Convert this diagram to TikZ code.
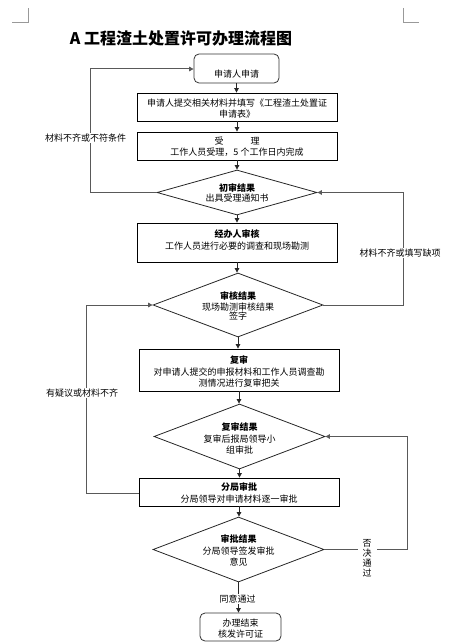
\documentclass[tikz,border=0pt]{standalone}
\usepackage{fontspec}
\newfontfamily\cjk{Noto Sans CJK SC}
\usetikzlibrary{shapes.geometric,arrows.meta}
\begin{document}
\begin{tikzpicture}[x=1pt,y=-1pt,
  box/.style={draw=black,line width=0.8pt,minimum width=200pt,inner sep=0pt},
  rbox/.style={draw=black!80,line width=0.8pt,rounded corners=5pt,inner sep=0pt},
  dia/.style={draw=black!85,line width=0.8pt,diamond,inner sep=0pt},
  txt/.style={font=\cjk\fontsize{9}{11}\selectfont,align=center,inner sep=0pt},
  htxt/.style={font=\cjk\bfseries\fontsize{9}{11}\selectfont,align=center,inner sep=0pt},
  lbl/.style={font=\cjk\fontsize{9}{11}\selectfont,fill=white,inner sep=1pt,align=center},
  flow/.style={draw=black!85,line width=0.8pt,-{Triangle[length=4.5pt,width=4.5pt]}},
  loopline/.style={draw=black!65,line width=1pt,-{Triangle[length=4.5pt,width=4.5pt]}},
  cornermark/.style={draw=black!40,line width=0.7pt}
]
\useasboundingbox (0,0) rectangle (458,644);
% page corner marks
\draw[cornermark] (12,22) -- (28,22) -- (28,8);
\draw[cornermark] (403,8) -- (403,22) -- (419,22);
% title
\node[font=\cjk\bfseries\fontsize{16}{18}\selectfont,inner sep=0pt] (title) at (181,38) {A 工程渣土处置许可办理流程图};

% boxes
\node[rbox,minimum width=85pt,minimum height=29pt] (b1) at (236.5,68.5) {};
\node[txt] (t1) at (236.5,74) {申请人申请};

\node[box,minimum height=28pt] (b2) at (237,107) {};
\node[txt] (t2) at (237,108.5) {申请人提交相关材料并填写《工程渣土处置证\\申请表》};

\node[box,minimum height=28pt] (b3) at (237,146) {};
\node[txt] (t3a) at (237,141) {受\hspace{3em}理};
\node[txt] (t3b) at (237,152) {工作人员受理，5 个工作日内完成};

\node[dia,minimum width=160pt,minimum height=45pt] (d1) at (237,192.5) {};
\node[htxt] (t4a) at (237,188) {初审结果};
\node[txt] (t4b) at (237,198) {出具受理通知书};

\node[box,minimum height=39pt] (b4) at (237,242.5) {};
\node[htxt] (t5a) at (237,234) {经办人审核};
\node[txt] (t5b) at (237,246) {工作人员进行必要的调查和现场勘测};

\node[dia,minimum width=170pt,minimum height=64pt] (d2) at (238,305) {};
\node[htxt] (t6a) at (238,296) {审核结果};
\node[txt] (t6b) at (238,307) {现场勘测审核结果};
\node[txt] (t6c) at (238,316) {签字};

\node[box,minimum height=42pt] (b5) at (239,370) {};
\node[htxt] (t7a) at (239,360) {复审};
\node[txt] (t7b) at (239,377.5) {对申请人提交的申报材料和工作人员调查勘\\测情况进行复审把关};

\node[dia,minimum width=171pt,minimum height=65pt] (d3) at (239.5,436.5) {};
\node[htxt] (t8a) at (239.5,427) {复审结果};
\node[txt] (t8b) at (239.5,444.5) {复审后报局领导小\\组审批};

\node[box,minimum height=28pt] (b6) at (239,492) {};
\node[htxt] (t9a) at (239,487) {分局审批};
\node[txt] (t9b) at (239,499) {分局领导对申请材料逐一审批};

\node[dia,minimum width=171pt,minimum height=65pt] (d4) at (238.5,549.5) {};
\node[htxt] (t10a) at (238.5,539) {审批结果};
\node[txt] (t10b) at (238.5,557) {分局领导签发审批\\意见};

\node[rbox,minimum width=81pt,minimum height=28pt] (b7) at (240.5,627) {};
\node[txt] (t11) at (240.5,628.5) {办理结束\\核发许可证};

% main flow
\draw[flow] (b1.south) -- (b1.south |- b2.north);
\draw[flow] (b2.south) -- (b2.south |- b3.north);
\draw[flow] (b3.south) -- (b3.south |- d1.north);
\draw[flow] (d1.south) -- (d1.south |- b4.north);
\draw[flow] (b4.south) -- (b4.south |- d2.north);
\draw[flow] (d2.south) -- (d2.south |- b5.north);
\draw[flow] (b5.south) -- (b5.south |- d3.north);
\draw[flow] (d3.south) -- (d3.south |- b6.north);
\draw[flow] (b6.south) -- (b6.south |- d4.north);
\coordinate (e7) at (d4.south |- b7.north);
\draw[flow] (d4.south) -- (e7);
\node[lbl] (l5) at (237.5,599) {同意通过};

% feedback loops
\coordinate (p1) at (90,192.5);
\coordinate (p2) at (90,69);
\draw[loopline] (d1.west) -- (p1) -- (p2) -- (b1.west |- p2);
\node[lbl] (l1) at (85.5,138) {材料不齐或不符条件};

\coordinate (q1) at (403,305);
\coordinate (q2) at (403,192.5);
\draw[loopline] (d2.east) -- (q1) -- (q2) -- (d1.east);
\node[lbl] (l2) at (400,253) {材料不齐或填写缺项};

\coordinate (r1) at (86,493);
\coordinate (r2) at (86,305);
\draw[loopline] (b6.west |- r1) -- (r1) -- (r2) -- (d2.west);
\node[lbl] (l3) at (82,393) {有疑议或材料不齐};

\coordinate (s1) at (407,549.5);
\coordinate (s2) at (407,436.5);
\draw[loopline] (d4.east) -- (s1) -- (s2) -- (d3.east);
\node[lbl,font=\cjk\fontsize{9}{10}\selectfont,inner xsep=5pt] (l4) at (367,558) {否\\决\\通\\过};
\end{tikzpicture}
\end{document}
